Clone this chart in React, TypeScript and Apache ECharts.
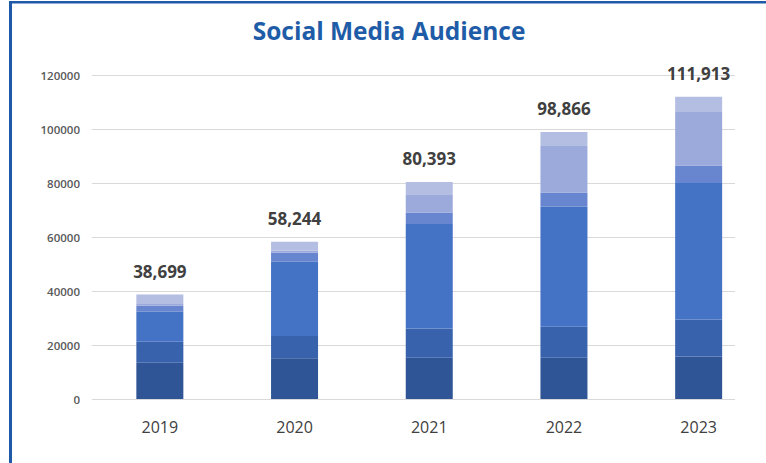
import React, { useEffect, useRef } from "react";
import * as echarts from "echarts";

const years = ["2019", "2020", "2021", "2022", "2023"];
const seg1 = [13400, 15100, 15300, 15300, 15700];
const seg2 = [7800, 8200, 10800, 11500, 13700];
const seg3 = [11100, 27550, 38700, 44400, 50600];
const seg4 = [2260, 3350, 4300, 5300, 6500];
const seg5 = [639, 800, 6700, 17500, 20100];
const seg6 = [3500, 3244, 4593, 4866, 5313];
const yTicks = [0, 20000, 40000, 60000, 80000, 100000, 120000];

const segColors = ["#2f5597", "#3962ad", "#4472c4", "#6786cf", "#9caadb", "#b4bee3"];

export default function App() {
  const ref = useRef<HTMLDivElement>(null);
  useEffect(() => {
    if (!ref.current) return;
    const chart = echarts.init(ref.current, null, { renderer: "svg" });
    const segs = [seg1, seg2, seg3, seg4, seg5, seg6];
    const totals = years.map((_, i) => segs.reduce((s, a) => s + a[i], 0));
    const font = "'Open Sans', sans-serif";
    const series: any[] = segs.map((data, k) => ({
      type: "bar",
      stack: "total",
      xAxisIndex: 1,
      yAxisIndex: 1,
      barWidth: 47,
      data,
      itemStyle: { color: segColors[k] },
      label:
        k === segs.length - 1
          ? {
              show: true,
              position: "top",
              distance: 15,
              formatter: (p: any) => totals[p.dataIndex].toLocaleString("en-US"),
              fontFamily: font,
              fontWeight: "bold",
              fontSize: 17,
              color: "#404040",
            }
          : { show: false },
    }));
    chart.setOption({
      animation: false,
      backgroundColor: "#ffffff",
      grid: [
        { left: 92, top: 75, width: 643, height: 324 },
        { left: 92.5, top: 75, width: 675, height: 324 },
      ],
      xAxis: [
        { type: "value", gridIndex: 0, show: false, min: 0, max: 1 },
        {
          type: "category",
          gridIndex: 1,
          data: years,
          axisLine: { show: false },
          axisTick: { show: false },
          axisLabel: {
            margin: 20,
            fontFamily: font,
            fontSize: 16,
            color: "#404040",
          },
        },
      ],
      yAxis: [
        {
          type: "value",
          gridIndex: 0,
          min: yTicks[0],
          max: yTicks[yTicks.length - 1],
          interval: yTicks[1] - yTicks[0],
          axisLine: { show: false },
          axisTick: { show: false },
          splitLine: { lineStyle: { color: "#d9d9d9", width: 1 } },
          axisLabel: {
            margin: 12,
            fontFamily: font,
            fontSize: 11.5,
            fontWeight: 600,
            color: "#595959",
            formatter: (v: number) => String(v),
          },
        },
        {
          type: "value",
          gridIndex: 1,
          min: yTicks[0],
          max: yTicks[yTicks.length - 1],
          show: false,
          splitLine: { show: false },
        },
      ],
      series,
      graphic: [
        {
          type: "text",
          x: 389,
          y: 30,
          style: {
            text: "Social Media Audience",
            fontFamily: font,
            fontWeight: "bold",
            fontSize: 24.5,
            fill: "#1f5ca8",
            textAlign: "center",
            textVerticalAlign: "middle",
          },
        },
        {
          type: "rect",
          shape: { x: 9, y: 1, width: 3, height: 462 },
          style: { fill: "#1e5aa8" },
        },
        {
          type: "rect",
          shape: { x: 9, y: 1, width: 757, height: 2.5 },
          style: { fill: "#1e5aa8" },
        },
      ],
    });
    return () => chart.dispose();
  }, []);
  return (
    <div
      ref={ref}
      style={{ position: "absolute", left: 0, top: 0, width: 766, height: 463, background: "#fff" }}
    />
  );
}
